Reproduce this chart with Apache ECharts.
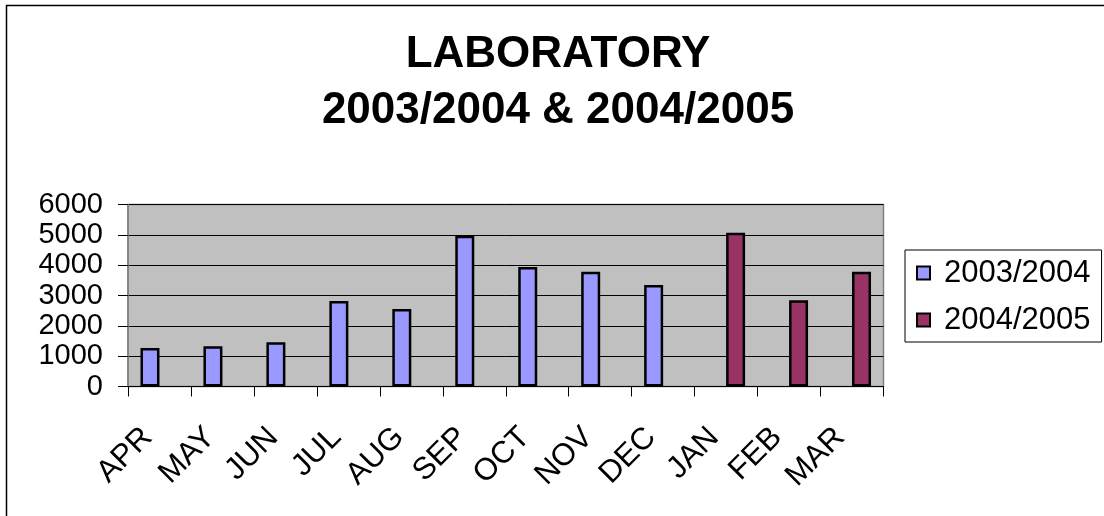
<!DOCTYPE html>
<html>
<head>
<meta charset="utf-8">
<script src="https://cdn.jsdelivr.net/npm/echarts@6/dist/echarts.min.js"></script>
<style>
html,body{margin:0;padding:0;background:#fff;}
#chart{width:1104px;height:516px;}
</style>
</head>
<body>
<div id="chart"></div>
<script>
const categories = ['APR','MAY','JUN','JUL','AUG','SEP','OCT','NOV','DEC','JAN','FEB','MAR'];
const series2003 = [1270, 1325, 1455, 2820, 2555, 4970, 3940, 3785, 3345, null, null, null];
const series2004 = [null, null, null, null, null, null, null, null, null, 5070, 2840, 3785];
const seriesNames = ['2003/2004', '2004/2005'];
const yTicks = [0, 1000, 2000, 3000, 4000, 5000, 6000];
const titleLines = ['LABORATORY', '2003/2004 & 2004/2005'];

const FONT = '"Liberation Sans", Arial, Helvetica, sans-serif';
const chart = echarts.init(document.getElementById('chart'), null, {renderer: 'canvas'});
chart.setOption({
  animation: false,
  backgroundColor: '#ffffff',
  graphic: [{
    type: 'rect', silent: true, z: 100,
    shape: {x: 6.5, y: 5.5, width: 1200, height: 700},
    style: {fill: 'none', stroke: '#000', lineWidth: 1.5}
  }],
  title: {
    text: titleLines.join('\n'),
    left: 558, top: 27, textAlign: 'center', padding: 0,
    textStyle: {fontFamily: FONT, fontWeight: 'bold', fontSize: 44, lineHeight: 56, color: '#000'}
  },
  legend: {
    orient: 'vertical',
    left: 905, top: 250,
    padding: [5, 11, 4, 11],
    itemGap: 11,
    itemWidth: 13, itemHeight: 13,
    backgroundColor: '#fff',
    borderColor: '#000', borderWidth: 1,
    icon: 'rect',
    itemStyle: {borderColor: '#000', borderWidth: 2},
    textStyle: {fontFamily: FONT, fontSize: 31, lineHeight: 36, color: '#000', padding: [0, 0, 0, 9]},
    data: seriesNames
  },
  grid: {
    left: 128, top: 204.5, right: 220.5, bottom: 129.5,
    show: true, backgroundColor: '#C0C0C0', borderColor: '#808080', borderWidth: 1.5
  },
  xAxis: {
    type: 'category',
    data: categories,
    boundaryGap: true,
    axisLine: {show: true, lineStyle: {color: '#000', width: 1}},
    axisTick: {show: true, length: 10, alignWithLabel: false, lineStyle: {color: '#000'}},
    axisLabel: {rotate: 45, margin: 34, padding: [0, 17, 0, 0], fontFamily: FONT, fontSize: 31, color: '#000', interval: 0},
    splitLine: {show: false}
  },
  yAxis: {
    type: 'value',
    min: yTicks[0], max: yTicks[yTicks.length - 1], interval: 1000,
    axisLine: {show: true, lineStyle: {color: '#808080', width: 1.5}},
    axisTick: {show: true, length: 10, lineStyle: {color: '#000'}},
    axisLabel: {
      margin: 25, fontFamily: FONT, fontSize: 29, lineHeight: 26, color: '#000',
      showMinLabel: true, showMaxLabel: true, hideOverlap: false, interval: 0,
      formatter: function (v) { return String(v); }
    },
    splitLine: {show: true, lineStyle: {color: '#000', width: 1}}
  },
  series: [
    {
      name: seriesNames[0], type: 'bar', data: series2003,
      barWidth: 19, barGap: '0%',
      itemStyle: {color: '#9999FF', borderColor: '#000', borderWidth: 2.5}
    },
    {
      name: seriesNames[1], type: 'bar', data: series2004,
      barWidth: 19, barGap: '0%',
      itemStyle: {color: '#993366', borderColor: '#000', borderWidth: 2.5}
    }
  ]
});
</script>
</body>
</html>
